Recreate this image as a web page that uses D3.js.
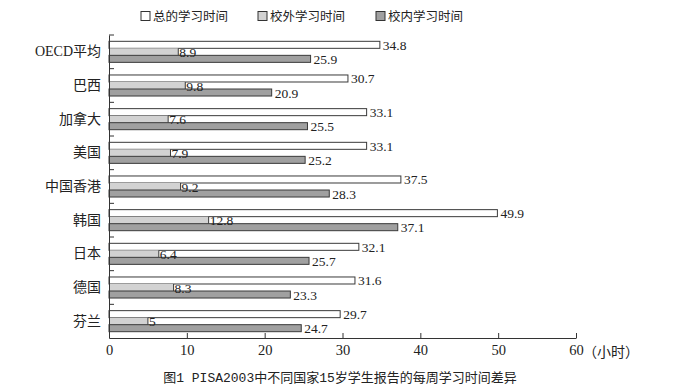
<!DOCTYPE html>
<html><head><meta charset="utf-8">
<script src="https://cdn.jsdelivr.net/npm/d3@7"></script>
<style>body{margin:0;background:#fff}svg{display:block}</style>
</head><body><svg id="c" width="680" height="390"></svg>
<script>
const categories = ["OECD平均","巴西","加拿大","美国","中国香港","韩国","日本","德国","芬兰"];
const totalHours = [34.8,30.7,33.1,33.1,37.5,49.9,32.1,31.6,29.7];
const outsideHours = [8.9,9.8,7.6,7.9,9.2,12.8,6.4,8.3,5];
const insideHours = [25.9,20.9,25.5,25.2,28.3,37.1,25.7,23.3,24.7];
const seriesNames = ["总的学习时间","校外学习时间","校内学习时间"];
const xTicks = [0,10,20,30,40,50,60];
const unitLabel = "（小时）";
const caption = "图1 PISA2003中不同国家15岁学生报告的每周学习时间差异";

const colors = ["#ffffff","#d2d2d2","#a0a0a0"];
const serif = "'Liberation Serif','Noto Sans CJK SC',serif";
const svg = d3.select("#c");
const x = d3.scaleLinear().domain([0,60]).range([109,576]);
const y = d3.scaleBand().domain(categories).range([35,338]).padding(0);
const sub = d3.scaleBand().domain(seriesNames).range([0,y.bandwidth()]).paddingInner(0).paddingOuter(0.9);
const series = [totalHours,outsideHours,insideHours];

// bars
series.forEach((vals,si)=>{
  const g = svg.append("g");
  g.selectAll("rect").data(categories).join("rect")
    .attr("x", x(0))
    .attr("y", c=>y(c)+sub(seriesNames[si]))
    .attr("width", (c,i)=>x(vals[i])-x(0))
    .attr("height", sub.bandwidth())
    .attr("fill", colors[si])
    .attr("stroke", si===1? "none":"#3a3a3a")
    .attr("stroke-width",1);
  if(si===1){
    g.selectAll("line.end").data(categories).join("line")
      .attr("x1",(c,i)=>x(vals[i])).attr("x2",(c,i)=>x(vals[i]))
      .attr("y1",c=>y(c)+sub(seriesNames[si])).attr("y2",c=>y(c)+sub(seriesNames[si])+sub.bandwidth())
      .attr("stroke","#3a3a3a");
  }
});
// labels
series.forEach((vals,si)=>{
  svg.append("g").selectAll("text").data(categories).join("text")
    .attr("x",(c,i)=>x(vals[i])+ (si===1?1:3))
    .attr("y",c=>y(c)+sub(seriesNames[si])+sub.bandwidth()/2+5)
    .attr("font-family",serif).attr("font-size",13.5).attr("fill","#222")
    .text((c,i)=>vals[i]);
});

// y axis
const ya = svg.append("g").attr("transform",`translate(${x(0)},0)`)
  .call(d3.axisLeft(y).tickSize(0).tickPadding(8).tickSizeOuter(0));
ya.select(".domain").attr("stroke","#333");
ya.selectAll("text").attr("font-family",serif).attr("font-size",14).attr("fill","#222");
svg.append("g").selectAll("line").data(categories).join("line")
  .attr("x1",x(0)).attr("x2",x(0)+5)
  .attr("y1",c=>y(c)).attr("y2",c=>y(c))
  .attr("stroke","#333");

// x axis
const xa = svg.append("g").attr("transform",`translate(0,338)`)
  .call(d3.axisBottom(x).tickValues(xTicks).tickSizeInner(-5).tickSizeOuter(0).tickPadding(7));
xa.select(".domain").attr("stroke","#333");
xa.selectAll(".tick line").attr("stroke","#333");
xa.selectAll("text").attr("font-family",serif).attr("font-size",14.5).attr("fill","#222");
svg.append("text").attr("x",x(60)+7).attr("y",357).attr("font-family","'Noto Sans CJK SC',sans-serif")
  .attr("font-size",14).attr("fill","#222").text(unitLabel);

// legend
const legX = [141,258,376];
seriesNames.forEach((n,i)=>{
  svg.append("rect").attr("x",legX[i]).attr("y",11.5).attr("width",9).attr("height",9)
    .attr("fill",colors[i]).attr("stroke","#333");
  svg.append("text").attr("x",legX[i]+12).attr("y",21).attr("font-family","'Noto Sans CJK SC',sans-serif")
    .attr("font-size",12.5).attr("fill","#222").text(n);
});

// caption
svg.append("text").attr("x",340).attr("y",382).attr("text-anchor","middle")
  .attr("font-family","'Liberation Mono','Noto Sans CJK SC',monospace").attr("font-size",13).attr("fill","#222")
  .text(caption);
</script></body></html>
